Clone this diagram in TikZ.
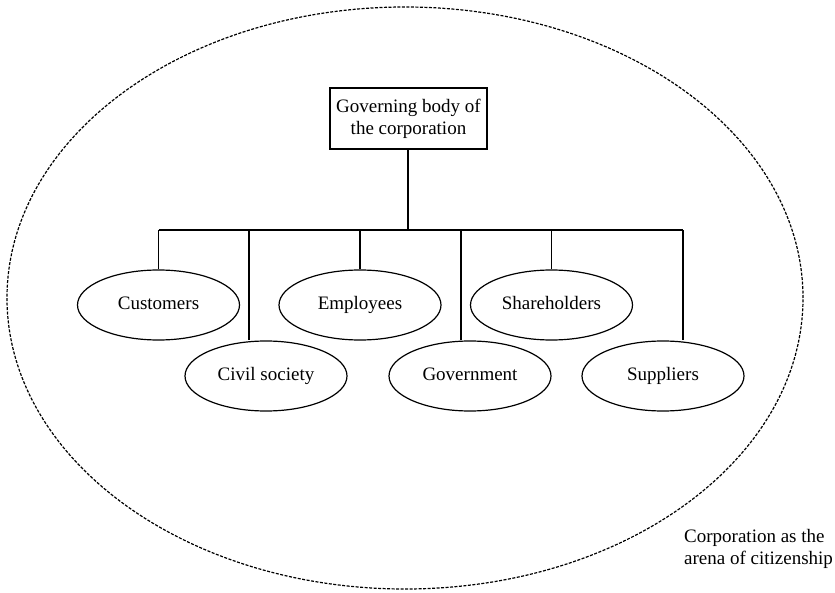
\documentclass[tikz,border=0pt]{standalone}
\usepackage{fontspec}
\setmainfont{Liberation Serif}
\usetikzlibrary{shapes.geometric}
\begin{document}
\begin{tikzpicture}[x=1bp,y=-1bp,
  every node/.style={font=\fontsize{19bp}{22bp}\selectfont},
  party/.style={draw,ellipse,line width=1.2bp,minimum width=162bp,minimum height=70bp,inner sep=0pt,text height=13bp,text depth=4bp},
  govbox/.style={draw,rectangle,line width=1.2bp,minimum width=157bp,minimum height=61bp,inner sep=0pt,align=center},
  link/.style={line width=1.2bp},
  arena/.style={draw,ellipse,dash pattern=on 3bp off 1.5bp,line width=1.2bp,minimum width=796bp,minimum height=582bp,inner sep=0pt}]
\useasboundingbox (0,0) rectangle (835,593);
\node[arena] (arenaE) at (405,298) {};
\node[govbox] (gov) at (408.5,118.5) {Governing body of\\the corporation};
\node[party] (cust) at (158.5,305) {Customers};
\node[party] (emp) at (360,305) {Employees};
\node[party] (share) at (551.5,305) {Shareholders};
\node[party] (civ) at (266,376) {Civil society};
\node[party] (govt) at (470,376) {Government};
\node[party] (sup) at (663,376) {Suppliers};
\coordinate (j) at (408,230);
\coordinate (tcust) at (158.5,230);
\coordinate (tciv) at (249,230);
\coordinate (temp) at (360,230);
\coordinate (tgovt) at (461,230);
\coordinate (tshare) at (551.5,230);
\coordinate (tsup) at (683,230);
\draw[link] (gov.south -| j) -- (j);
\draw[link] (tcust) -- (tsup);
\draw[link] (tcust) -- (cust.north);
\draw[link] (temp) -- (emp.north);
\draw[link] (tshare) -- (share.north);
\draw[link] (tciv) -- (tciv |- civ.north);
\draw[link] (tgovt) -- (tgovt |- govt.north);
\draw[link] (tsup) -- (tsup |- sup.north);
\node[anchor=west,align=left,inner sep=0pt] (lbl) at (684,549) {Corporation as the\\arena of citizenship};
\end{tikzpicture}
\end{document}
